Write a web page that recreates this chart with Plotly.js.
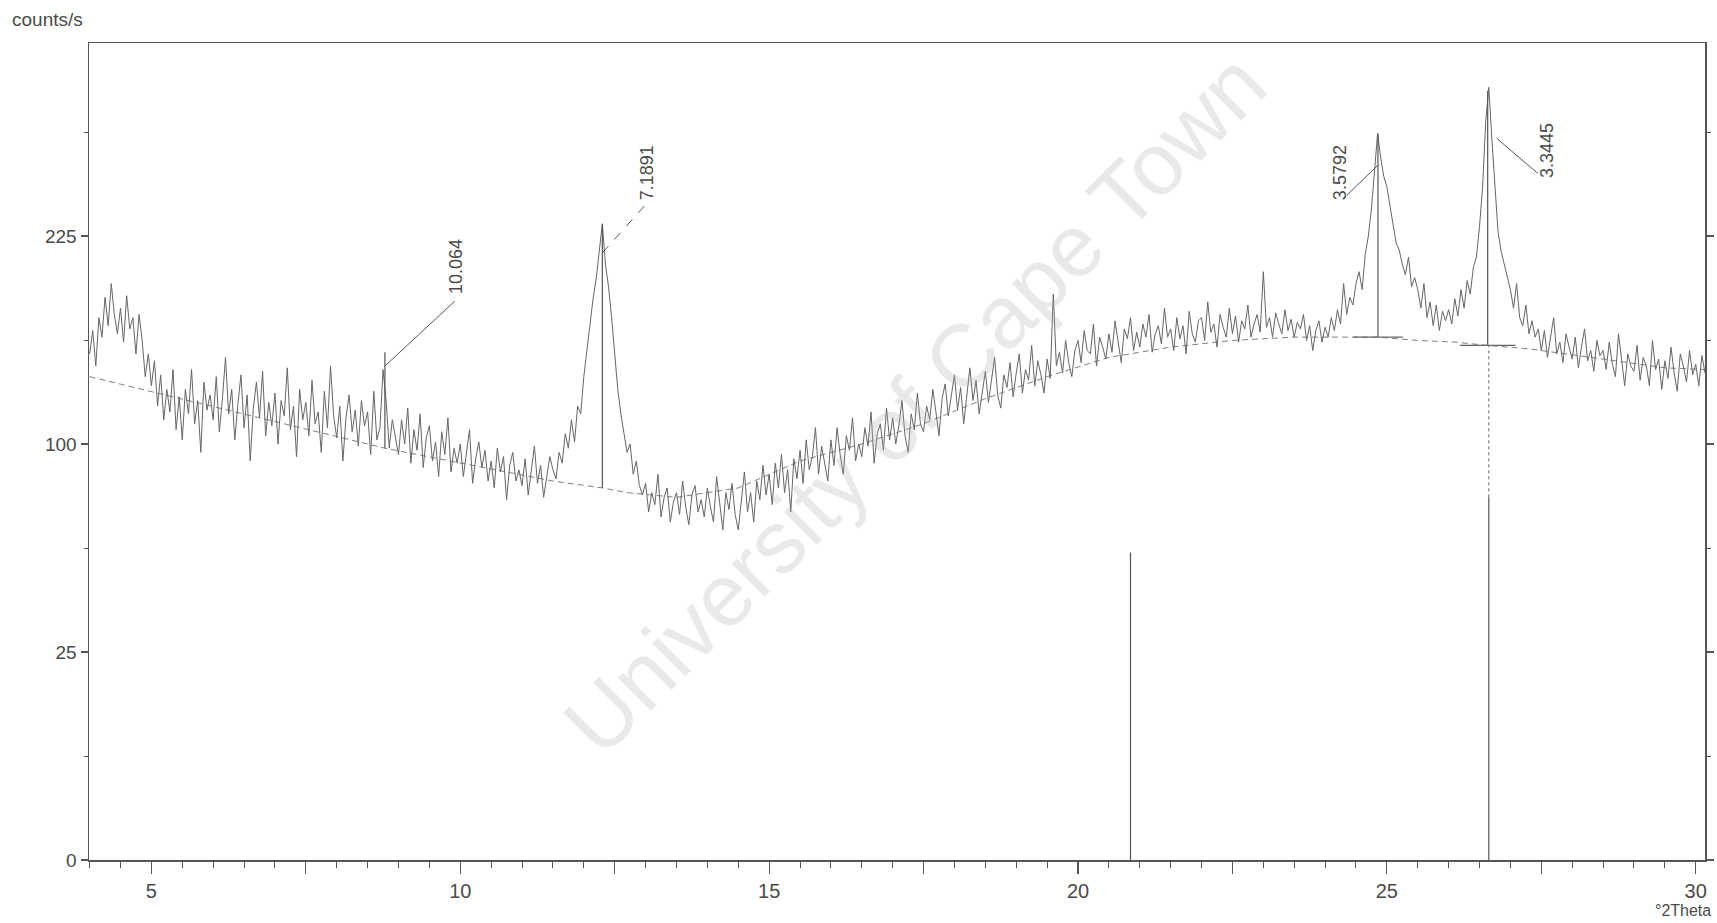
<!DOCTYPE html>
<html>
<head>
<meta charset="utf-8">
<script src="https://cdn.plot.ly/plotly-3.0.1.min.js"></script>
<style>html,body{margin:0;padding:0;background:#fff;}#chart{width:1717px;height:923px;}</style>
</head>
<body>
<div id="chart"></div>
<script>
// ---- scan parameters ----
const twoThetaStart = 4.0;
const twoThetaStep = 0.05;

// ---- measured intensity (counts/s), one row per 0.5 deg ----
const counts = [
  148,162,141,170,158,183,165,192,172,160,
  176,155,184,163,170,148,172,156,135,148,
  130,144,119,136,112,128,116,139,107,124,
  102,128,115,139,110,122,96,132,117,125,
  112,135,106,123,146,115,128,102,120,136,
  108,125,92,118,132,113,138,104,121,109,
  126,100,122,114,140,107,119,94,128,112,
  121,104,133,110,116,96,127,108,141,114,
  103,119,92,113,125,106,117,99,122,109,
  116,95,127,102,108,139,122,98,112,104,
  95,112,100,118,91,107,97,115,89,103,
  109,92,101,85,106,95,113,87,98,91,
  100,85,96,107,82,93,101,89,97,83,
  92,80,98,87,94,75,90,96,83,88,
  81,93,77,87,99,82,90,76,85,94,
  88,84,96,91,105,98,112,101,119,115,
  135,150,168,182,195,215,234,205,190,170,
  150,128,115,106,96,100,86,92,81,77,
  82,70,78,73,86,68,76,80,66,74,
  78,69,83,72,65,77,81,70,75,68,
  80,72,66,85,74,63,78,71,82,69,
  63,76,87,70,78,66,83,75,90,77,
  86,73,91,80,95,78,88,70,93,84,
  97,82,102,88,94,108,86,99,91,83,
  102,90,108,95,86,104,97,113,92,100,
  94,108,99,116,91,105,110,97,118,102,
  113,100,109,122,104,96,115,107,126,110,
  106,119,112,128,116,104,123,131,114,125,
  136,117,129,110,126,140,122,133,115,127,
  138,121,132,146,125,118,136,129,143,124,
  137,148,126,139,133,153,130,144,136,126,
  145,134,185,141,149,137,156,143,135,150,
  156,143,162,150,148,166,141,158,152,145,
  160,149,168,155,143,163,157,170,150,161,
  152,166,158,172,149,160,165,154,176,158,
  163,150,170,157,165,148,174,160,155,168,
  170,156,180,161,166,152,172,164,158,176,
  160,171,155,168,163,178,158,166,172,161,
  200,164,170,158,173,166,160,175,162,169,
  158,167,163,172,156,165,150,162,168,155,
  164,158,170,162,175,166,192,172,183,178,
  192,200,188,212,225,245,278,305,285,270,
  262,248,232,220,215,205,198,210,190,196,
  188,176,192,170,180,165,178,162,174,168,
  175,166,182,171,188,176,194,185,203,210,
  232,262,315,345,300,258,228,214,205,196,
  188,176,192,170,165,178,160,168,158,163,
  150,162,146,158,170,148,155,143,160,152,
  145,158,140,152,163,144,150,138,156,147,
  150,139,155,142,135,160,144,130,148,141,
  138,153,133,146,141,130,156,139,145,128,
  144,134,152,137,127,148,141,132,150,136,
  142,130,147,137
];

// ---- fitted background (counts/s) ----
const bg2Theta = [4.0,6.9,8.78,11.5,12.3,12.7,13.5,14.5,15.5,16.5,17.5,18.5,19.5,20.5,21.5,22.5,23.5,24.3,24.86,25.5,26.1,26.63,27.3,28.5,29.5,30.15];
const bgCounts = [135,112,98,83,80,78,76,80,92,100,110,123,135,146,152,156,158,158,158,156,155,153,151,145,140,139];

// ---- identified peaks ----
const peak2Theta   = [8.78, 12.30, 24.856, 26.632];
const peakLabels   = ['10.064', '7.1891', '3.5792', '3.3445'];
const peakTip      = [141, 213, 279, 301];
const peakTop      = [149, 233, 305, 342];
const peakBase     = [98, 80, 158, 153];

// ---- reference pattern sticks ----
const stick2Theta = [20.85, 26.65];
const stickCounts = [54.6, 76];

// ---- axis ticks ----
const xTickVals = [5, 7.5, 10, 12.5, 15, 17.5, 20, 22.5, 25, 27.5, 30];
const xTickText = ['5', '', '10', '', '15', '', '20', '', '25', '', '30'];
const yTickCounts = [0, 25, 100, 225];
const yMinorCounts = [6.25, 56.25, 156.25, 306.25];

// ---- style / layout config (not data) ----
const labelStyle = [
  {lx: 70, ly: 65, tx: 71, ty: 100, dash: 'solid', ox: 0, base: 0},
  {lx: 43, ly: 48, tx: 45, ty: 80, dash: 'dash', ox: 0, base: 0},
  {lx: -31, ly: -30, tx: -38, ty: -7, dash: 'solid', ox: 0, base: 0.4},
  {lx: 50, ly: -35, tx: 60, ty: -12, dash: 'solid', ox: 9, base: 0.45}
];
const ink = '#4a4a4a';
const fontFam = 'Liberation Sans, Arial, sans-serif';

const sq = v => Math.sqrt(v);
const x = counts.map((_, i) => +(twoThetaStart + i * twoThetaStep).toFixed(3));

const traces = [
  {x: bg2Theta, y: bgCounts.map(sq), type: 'scatter', mode: 'lines',
   line: {color: '#808080', width: 1, dash: '6px,4px'}, hoverinfo: 'skip'},
  {x: x, y: counts.map(sq), type: 'scatter', mode: 'lines',
   line: {color: '#666', width: 1}, hoverinfo: 'skip'}
];

const shapes = [];
stick2Theta.forEach((t, i) => {
  shapes.push({type: 'line', xref: 'x', yref: 'y', x0: t, x1: t, y0: 0, y1: sq(stickCounts[i]),
    line: {color: '#555', width: 1.2}});
});
// dotted link from the 26.65 stick up to the background
shapes.push({type: 'line', xref: 'x', yref: 'y', x0: stick2Theta[1], x1: stick2Theta[1],
  y0: sq(stickCounts[1]), y1: sq(peakBase[3]), line: {color: '#666', width: 1, dash: 'dot'}});

const annotations = [];
peak2Theta.forEach((t, i) => {
  const s = labelStyle[i];
  shapes.push({type: 'line', xref: 'x', yref: 'y', x0: t, x1: t, y0: sq(peakBase[i]), y1: sq(peakTop[i]),
    line: {color: '#555', width: 1.2}});
  if (s.base > 0) {
    shapes.push({type: 'line', xref: 'x', yref: 'y', x0: t - s.base, x1: t + s.base, y0: sq(peakBase[i]), y1: sq(peakBase[i]),
      line: {color: '#666', width: 1.2}});
  }
  shapes.push({type: 'line', xref: 'x', yref: 'y', xsizemode: 'pixel', ysizemode: 'pixel',
    xanchor: t, yanchor: sq(peakTip[i]), x0: s.ox, x1: s.lx, y0: 0, y1: s.ly,
    line: {color: '#555', width: 1, dash: s.dash}});
  annotations.push({x: t, y: sq(peakTip[i]), xref: 'x', yref: 'y', text: peakLabels[i],
    showarrow: false, textangle: -90, xshift: s.tx, yshift: s.ty,
    xanchor: 'center', yanchor: 'middle', font: {family: fontFam, size: 18, color: ink}});
});

annotations.push({xref: 'paper', yref: 'paper', x: -0.049, y: 1.029, xanchor: 'left', yanchor: 'middle',
  text: 'counts/s', showarrow: false, font: {family: fontFam, size: 19, color: ink}});
annotations.push({xref: 'paper', yref: 'paper', x: 1.005, y: -0.062, xanchor: 'right', yanchor: 'middle',
  text: '°2Theta', showarrow: false, font: {family: fontFam, size: 16, color: ink}});
annotations.push({xref: 'paper', yref: 'paper', x: 0.511, y: 0.559, xanchor: 'center', yanchor: 'middle',
  text: 'University of Cape Town', showarrow: false, textangle: -45,
  font: {family: fontFam, size: 88, color: 'rgba(175,175,175,0.28)'}});

const layout = {
  width: 1717, height: 923,
  margin: {l: 89, r: 12, t: 43, b: 63, pad: 0},
  paper_bgcolor: '#fff', plot_bgcolor: '#fff',
  showlegend: false,
  font: {family: fontFam, color: ink},
  xaxis: {
    range: [3.99, 30.15], tickmode: 'array', tickvals: xTickVals, ticktext: xTickText,
    ticks: 'outside', ticklen: 12, tickwidth: 1.2, tickcolor: '#555',
    minor: {tickmode: 'linear', tick0: 0, dtick: 0.5, ticks: 'outside', ticklen: 6, tickwidth: 1, tickcolor: '#555', showgrid: false},
    showline: true, linecolor: '#555', linewidth: 1.5, mirror: true,
    showgrid: false, zeroline: false, tickfont: {family: fontFam, size: 20, color: ink}
  },
  yaxis: {
    range: [0, 19.64], tickmode: 'array', tickvals: yTickCounts.map(sq), ticktext: yTickCounts.map(String),
    ticks: 'outside', ticklen: 7, tickwidth: 1.2, tickcolor: '#555',
    minor: {tickmode: 'array', tickvals: yMinorCounts.map(sq), ticks: 'outside', ticklen: 4, tickwidth: 1, tickcolor: '#555', showgrid: false},
    showline: true, linecolor: '#555', linewidth: 1.5, mirror: 'ticks',
    showgrid: false, zeroline: false, tickfont: {family: fontFam, size: 19, color: ink}
  },
  shapes: shapes,
  annotations: annotations
};

Plotly.newPlot('chart', traces, layout, {displayModeBar: false, staticPlot: true});
</script>
</body>
</html>
